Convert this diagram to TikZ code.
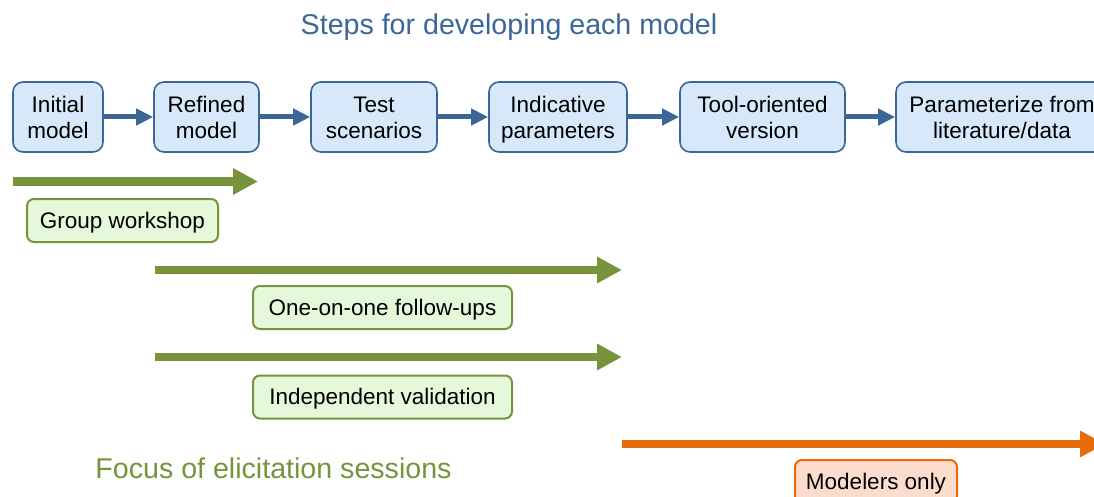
\documentclass[tikz,border=0pt]{standalone}
\usepackage{fontspec}
\setmainfont{Liberation Sans}
\usetikzlibrary{arrows.meta}
\definecolor{stepblue}{HTML}{3C6698}
\definecolor{stepfill}{HTML}{D6E8FA}
\definecolor{olive}{HTML}{77933C}
\definecolor{olivefill}{HTML}{E6F8DA}
\definecolor{orng}{HTML}{E46C0A}
\definecolor{orngfill}{HTML}{FCDDCD}
\newcommand\dstrut{\rule[-5pt]{0pt}{5pt}}
\newcommand\ustrut{\rule{0pt}{21.5pt}}
\newcommand\gstrut{\rule{0pt}{20.5pt}}
\tikzset{
  stepbox/.style={draw=stepblue, fill=stepfill, line width=1.6pt, rounded corners=10pt,
    minimum height=70pt, inner sep=0pt, align=center,
    font=\fontsize{22.5}{26}\selectfont},
  greenbox/.style={draw=olive, fill=olivefill, line width=2pt, rounded corners=7pt,
    minimum height=43pt, inner sep=0pt, align=center,
    font=\fontsize{22.5}{26}\selectfont},
  orangebox/.style={draw=orng, fill=orngfill, line width=2pt, rounded corners=7pt,
    minimum height=43pt, inner sep=0pt, align=center,
    font=\fontsize{22.5}{26}\selectfont},
  steparrow/.style={draw=stepblue, line width=5pt, -{Triangle[length=17pt,width=16pt]}},
  greenarrow/.style={draw=olive, line width=8.7pt, -{Triangle[length=25pt,width=25pt]}},
  orangearrow/.style={draw=orng, line width=8.7pt, -{Triangle[length=25pt,width=25pt]}},
  headline/.style={font=\fontsize{28.6}{32}\selectfont, inner sep=0pt, anchor=base}
}
\begin{document}
\begin{tikzpicture}[x=1pt,y=-1pt]
\useasboundingbox (0,0) rectangle (1094,497);
\node[headline, text=stepblue] (title) at (509,34.3) {Steps for developing each model};
\node[stepbox, minimum width=90pt] (n1) at (58,117) {\ustrut Initial\\model\dstrut};
\node[stepbox, minimum width=105pt] (n2) at (206.5,117) {\ustrut Refined\\model\dstrut};
\node[stepbox, minimum width=126pt] (n3) at (374,117) {\ustrut Test\\scenarios\dstrut};
\node[stepbox, minimum width=138pt] (n4) at (558,117) {\ustrut Indicative\\parameters\dstrut};
\node[stepbox, minimum width=165pt] (n5) at (762.5,117) {\ustrut Tool-oriented\\version\dstrut};
\node[stepbox, minimum width=212pt] (n6) at (1002,117) {\ustrut Parameterize from\\literature/data\dstrut};
\draw[steparrow] (n1) -- (n2);
\draw[steparrow] (n2) -- (n3);
\draw[steparrow] (n3) -- (n4);
\draw[steparrow] (n4) -- (n5);
\draw[steparrow] (n5) -- (n6);
\coordinate (g1s) at (13,181.5);
\coordinate (g1e) at (258,181.5);
\coordinate (g2s) at (155,270);
\coordinate (g2e) at (622,270);
\coordinate (g3s) at (155,357);
\coordinate (g3e) at (622,357);
\coordinate (o1s) at (622,444);
\coordinate (o1e) at (1105,444);
\draw[greenarrow] (g1s) -- (g1e);
\draw[greenarrow] (g2s) -- (g2e);
\draw[greenarrow] (g3s) -- (g3e);
\draw[orangearrow] (o1s) -- (o1e);
\node[greenbox, minimum width=191pt] (gw) at (122.5,220.5) {\gstrut Group workshop\dstrut};
\node[greenbox, minimum width=259pt] (oo) at (382.5,307.5) {\gstrut One-on-one follow-ups\dstrut};
\node[greenbox, minimum width=259pt] (iv) at (382.5,397) {\gstrut Independent validation\dstrut};
\node[orangebox, minimum width=162pt] (mo) at (876,481.5) {\gstrut Modelers only\dstrut};
\node[headline, text=olive] (focus) at (273.5,478.5) {Focus of elicitation sessions};
\end{tikzpicture}
\end{document}
